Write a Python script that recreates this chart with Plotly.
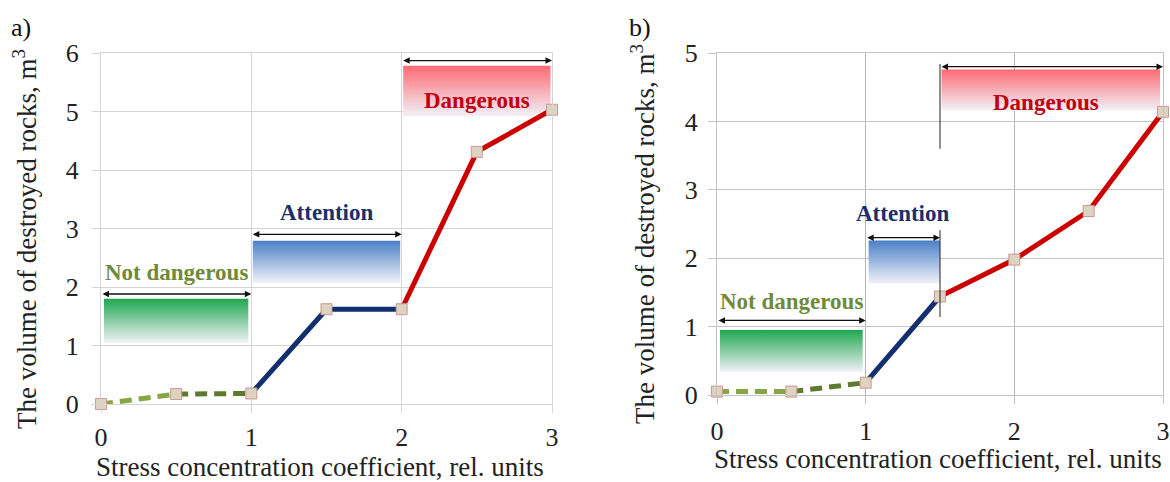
import plotly.graph_objects as go

# ---------------- data ----------------
x_vals = [0, 0.5, 1, 1.5, 2, 2.5, 3]
a_vals = [0.0, 0.17, 0.18, 1.62, 1.62, 4.31, 5.03]
b_vals = [0.05, 0.05, 0.18, 1.44, 1.98, 2.69, 4.14]

# segment index ranges (green dashed, navy, red)
a_segments = [(0, 1), (1, 2), (2, 4), (4, 6)]
b_segments = [(0, 1), (1, 2), (2, 3), (3, 6)]
seg_colors = ["#86a645", "#5f7a30", "#13306e", "#cc0000"]
seg_dash = ["12px,7px", "12px,7px", "solid", "solid"]

x_ticks = [0, 1, 2, 3]
a_y_ticks = [0, 1, 2, 3, 4, 5, 6]
b_y_ticks = [0, 1, 2, 3, 4, 5]

zone_names = ["Not dangerous", "Attention", "Dangerous"]
zone_label_colors = ["#6f8a3a", "#1b2f6b", "#c00010"]
zone_top_colors = ["#1fa84f", "#4a80c8", "#ff6a74"]
zone_bottom_color = "#f1f2f8"

# zones: (band x0, band x1, band y bottom, band y top, arrow x0, arrow x1, arrow y, label x, label y)
a_zones = [
    (0.02, 0.98, 1.05, 1.80, 0.0, 1.0, 1.88, 0.5, 2.25),
    (1.01, 1.99, 2.07, 2.79, 1.0, 2.0, 2.90, 1.5, 3.28),
    (2.01, 2.99, 4.92, 5.78, 2.0, 3.0, 5.87, 2.5, 5.18),
]
b_zones = [
    (0.02, 0.98, 0.34, 0.95, 0.0, 1.0, 1.09, 0.5, 1.36),
    (1.02, 1.50, 1.63, 2.26, 1.0, 1.5, 2.30, 1.25, 2.65),
    (1.51, 2.98, 4.16, 4.76, 1.5, 3.0, 4.80, 2.21, 4.27),
]
# thin vertical marker lines in panel b at x=1.5: (x, y0, y1)
b_vlines = [(1.5, 1.14, 2.41), (1.5, 3.60, 4.84)]

FONT = "Liberation Serif, serif"
W, H = 1170, 482

fig = go.Figure()


def add_panel(xa, ya, vals, segments, zones):
    # gradient bands
    for i, (bx0, bx1, by0, by1, *_rest) in enumerate(zones):
        fig.add_trace(go.Scatter(
            x=[bx0, bx1, bx1, bx0, bx0], y=[by0, by0, by1, by1, by0],
            xaxis=xa, yaxis=ya, mode="lines", line=dict(width=0),
            fill="toself",
            fillgradient=dict(type="vertical", start=by0, stop=by1,
                              colorscale=[[0, zone_bottom_color], [1, zone_top_colors[i]]]),
            hoverinfo="skip", showlegend=False))
    # lines
    for k, (i0, i1) in enumerate(segments):
        fig.add_trace(go.Scatter(
            x=x_vals[i0:i1 + 1], y=vals[i0:i1 + 1], xaxis=xa, yaxis=ya,
            mode="lines", line=dict(color=seg_colors[k], width=5, dash=seg_dash[k]),
            showlegend=False, cliponaxis=False))
    # markers
    fig.add_trace(go.Scatter(
        x=x_vals, y=vals, xaxis=xa, yaxis=ya, mode="markers",
        marker=dict(symbol="square", size=11, color="#ded3c1",
                    line=dict(color="#c99a92", width=1)),
        showlegend=False, cliponaxis=False))
    # arrows + labels
    for i, (bx0, bx1, by0, by1, ax0, ax1, ay, lx, ly) in enumerate(zones):
        fig.add_annotation(x=ax1, y=ay, ax=ax0, ay=ay, xref=xa, yref=ya,
                           axref=xa, ayref=ya, showarrow=True, text="",
                           arrowhead=2, startarrowhead=2, arrowside="end+start",
                           arrowsize=1, startarrowsize=1, arrowwidth=1.3,
                           arrowcolor="#111111", standoff=0, startstandoff=0)
        fig.add_annotation(x=lx, y=ly, xref=xa, yref=ya, showarrow=False,
                           xanchor="center", yanchor="middle",
                           text="<b>%s</b>" % zone_names[i],
                           font=dict(family=FONT, size=23, color=zone_label_colors[i]))


add_panel("x", "y", a_vals, a_segments, a_zones)
add_panel("x2", "y2", b_vals, b_segments, b_zones)

for (vx, vy0, vy1) in b_vlines:
    fig.add_shape(type="line", x0=vx, x1=vx, y0=vy0, y1=vy1, xref="x2", yref="y2",
                  line=dict(color="#222222", width=1))


def px_x(p):
    return p / W


def px_y(p):
    return 1 - p / H


axis_common = dict(showgrid=True, ticks="outside", ticklen=8, automargin=False,
                   showline=True, mirror=True, zeroline=False,
                   tickfont=dict(family=FONT, size=26, color="#222222"))

fig.update_layout(
    width=W, height=H, margin=dict(l=0, r=0, t=0, b=0, autoexpand=False),
    paper_bgcolor="white", plot_bgcolor="white",
    font=dict(family=FONT, color="#222222"),
    xaxis=dict(domain=[px_x(101), px_x(552)], range=[0, 3], tickvals=x_ticks,
               gridcolor="#d4d4d4", linecolor="#d4d4d4", tickcolor="#d4d4d4",
               ticklabelstandoff=2, anchor="y", **axis_common),
    yaxis=dict(domain=[px_y(404), px_y(53)], range=[0, 6], tickvals=a_y_ticks,
               gridcolor="#d4d4d4", linecolor="#d4d4d4", tickcolor="#d4d4d4",
               ticklabelstandoff=8, anchor="x", **axis_common),
    xaxis2=dict(domain=[px_x(717), px_x(1163)], range=[0, 3], tickvals=x_ticks,
                gridcolor="#b4b4b4", linecolor="#c4c4c4", tickcolor="#c4c4c4",
                ticklabelstandoff=5, anchor="y2", **axis_common),
    yaxis2=dict(domain=[px_y(395), px_y(53)], range=[0, 5], tickvals=b_y_ticks,
                gridcolor="#c4c4c4", linecolor="#c4c4c4", tickcolor="#c4c4c4",
                ticklabelstandoff=5, anchor="x2", **axis_common),
)

title_font = dict(family=FONT, size=27, color="#222222")


def paper_text(px, py, text, font, angle=0):
    fig.add_annotation(x=px_x(px), y=px_y(py), xref="paper", yref="paper", showarrow=False,
                       xanchor="center", yanchor="middle", textangle=angle,
                       text=text, font=font)


# axis titles
paper_text(320, 467, "Stress concentration coefficient, rel. units", title_font)
paper_text(938, 459, "Stress concentration coefficient, rel. units", title_font)
paper_text(25, 239, "The volume of destroyed rocks, m<sup>3</sup>", title_font, -90)
paper_text(643, 234, "The volume of destroyed rocks, m<sup>3</sup>", title_font, -90)
# panel labels
paper_text(21, 27, "a)", dict(family=FONT, size=26, color="#111111"))
paper_text(640, 27, "b)", dict(family=FONT, size=26, color="#111111"))

fig.write_html("out.html", config={"displayModeBar": False},
               post_script="document.body.style.margin='0';")
